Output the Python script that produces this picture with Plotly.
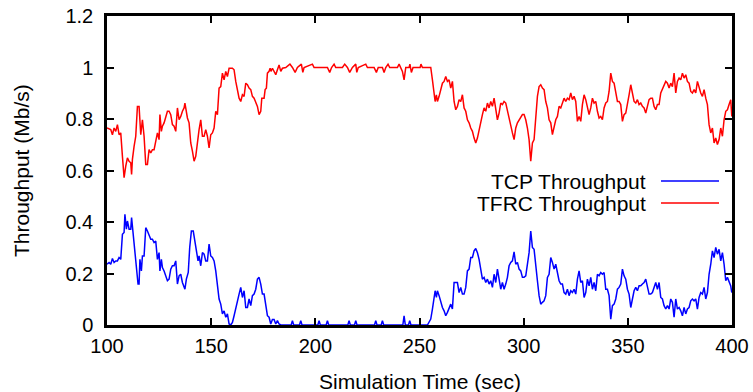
import plotly.graph_objects as go

# TFRC throughput (red)
tfrc_t = [100.0, 101.8, 102.6, 103.4, 104.2, 105.0, 105.8, 106.6, 107.4, 108.2, 109.0, 109.8, 110.6, 111.4, 111.8,
          112.2, 113.0, 113.8, 114.6, 115.4, 116.2, 117.0, 117.8, 118.6, 119.4, 120.2, 121.0, 121.8, 122.6, 123.4,
          124.2, 125.0, 125.4, 126.1, 126.6, 127.4, 128.2, 129.0, 129.8, 130.6, 131.4, 132.2, 133.0, 133.8, 134.6,
          135.4, 136.2, 137.0, 137.4, 137.8, 138.6, 139.4, 140.2, 141.0, 141.8, 142.6, 143.4, 144.2, 145.0, 145.8,
          146.6, 147.4, 148.2, 149.0, 149.8, 150.6, 151.4, 152.2, 153.0, 153.8, 154.6, 155.4, 156.2, 157.0, 157.8,
          158.6, 160.2, 161.0, 161.8, 162.6, 163.4, 164.2, 165.0, 165.8, 166.6, 167.4, 168.2, 169.0, 169.8, 170.6,
          171.4, 172.2, 173.0, 173.8, 174.3, 175.4, 175.9, 176.5, 177.0, 177.8, 178.3, 178.7, 179.4, 180.2, 181.0,
          181.8, 182.6, 183.4, 184.2, 185.8, 187.8, 189.0, 190.3, 191.4, 193.3, 194.0, 194.6, 198.6, 199.4, 205.8,
          206.9, 207.8, 209.0, 209.8, 213.0, 214.1, 215.4, 216.5, 217.8, 219.4, 219.9, 220.6, 224.2, 225.0, 228.2,
          229.3, 230.2, 232.2, 233.0, 233.8, 234.9, 235.7, 239.4, 240.2, 241.0, 241.8, 242.6, 243.4, 245.0, 245.4,
          246.1, 246.9, 250.3, 250.7, 251.4, 255.4, 256.2, 257.0, 257.5, 258.1, 258.6, 259.4, 260.2, 261.0, 261.8,
          262.6, 263.4, 264.2, 265.0, 265.8, 266.6, 267.4, 268.2, 269.0, 269.8, 270.6, 271.4, 272.2, 273.0, 273.8,
          274.6, 275.4, 276.2, 277.0, 277.8, 278.6, 279.4, 280.2, 281.0, 281.8, 282.6, 283.4, 284.2, 285.0, 285.8,
          286.6, 287.4, 288.2, 289.0, 289.8, 290.6, 291.4, 292.2, 293.0, 293.8, 294.6, 295.4, 296.2, 297.0, 297.8,
          298.6, 299.4, 300.2, 301.0, 301.8, 302.6, 303.4, 304.2, 305.0, 305.8, 306.6, 307.4, 308.2, 309.0, 309.8,
          310.6, 311.4, 312.2, 313.0, 313.8, 314.6, 315.4, 316.2, 317.0, 317.8, 318.6, 319.4, 320.2, 321.0, 321.8,
          322.6, 323.4, 324.2, 325.0, 325.8, 326.6, 327.4, 328.2, 329.0, 329.8, 330.6, 331.4, 332.2, 333.0, 333.8,
          334.6, 335.4, 336.2, 337.0, 337.8, 338.6, 339.4, 340.2, 341.0, 341.8, 342.6, 343.4, 344.2, 345.0, 345.8,
          346.6, 347.4, 348.2, 349.0, 349.8, 350.6, 351.4, 352.2, 353.0, 353.8, 354.6, 355.4, 356.2, 357.0, 357.8,
          358.6, 359.4, 360.2, 361.0, 361.8, 362.6, 363.4, 364.2, 365.0, 365.8, 366.6, 367.4, 368.2, 369.0, 369.8,
          370.6, 371.4, 372.2, 373.0, 373.8, 374.6, 375.4, 376.2, 377.0, 377.8, 378.6, 379.4, 380.2, 381.0, 381.8,
          382.6, 383.4, 384.2, 385.0, 385.8, 386.6, 387.4, 388.2, 389.0, 389.8, 390.6, 391.4, 392.2, 393.0, 393.8,
          394.6, 395.4, 396.2, 397.0, 397.8, 398.6, 399.4, 399.9]
tfrc_v = [0.765, 0.759, 0.739, 0.765, 0.752, 0.778, 0.739, 0.746, 0.655, 0.572, 0.617, 0.649, 0.636, 0.630, 0.585,
          0.643, 0.694, 0.733, 0.849, 0.849, 0.739, 0.797, 0.733, 0.623, 0.623, 0.681, 0.668, 0.681, 0.681, 0.720,
          0.746, 0.720, 0.817, 0.752, 0.772, 0.785, 0.804, 0.830, 0.830, 0.817, 0.778, 0.772, 0.752, 0.843, 0.797,
          0.810, 0.830, 0.843, 0.862, 0.836, 0.804, 0.785, 0.707, 0.675, 0.636, 0.655, 0.720, 0.759, 0.797, 0.733,
          0.733, 0.759, 0.733, 0.688, 0.739, 0.746, 0.765, 0.830, 0.817, 0.920, 0.926, 0.978, 0.952, 0.985, 0.965,
          0.997, 0.997, 0.991, 0.946, 0.914, 0.881, 0.868, 0.894, 0.888, 0.939, 0.933, 0.920, 0.914, 0.888, 0.881,
          0.868, 0.849, 0.817, 0.830, 0.881, 0.881, 0.914, 0.920, 0.978, 0.985, 0.997, 0.985, 0.997, 0.985, 0.972,
          0.991, 1.010, 0.985, 0.997, 1.000, 1.013, 1.000, 0.981, 1.000, 1.013, 0.981, 1.000, 1.013, 1.000, 1.000,
          0.981, 1.000, 1.013, 1.000, 1.000, 1.013, 1.000, 0.981, 1.000, 1.013, 0.981, 1.000, 1.013, 1.000, 1.000,
          0.981, 1.000, 1.000, 0.981, 1.000, 1.013, 1.000, 1.000, 1.013, 1.000, 0.985, 0.952, 1.000, 1.000, 1.013,
          0.981, 1.000, 1.000, 1.013, 1.000, 1.000, 0.952, 0.901, 0.868, 0.894, 0.868, 0.888, 0.920, 0.939, 0.946,
          0.965, 0.946, 0.952, 0.920, 0.946, 0.868, 0.836, 0.849, 0.875, 0.868, 0.894, 0.843, 0.830, 0.797, 0.785,
          0.765, 0.752, 0.726, 0.707, 0.726, 0.759, 0.797, 0.817, 0.843, 0.830, 0.862, 0.843, 0.868, 0.849, 0.881,
          0.836, 0.797, 0.823, 0.862, 0.856, 0.868, 0.862, 0.830, 0.797, 0.765, 0.746, 0.720, 0.765, 0.785, 0.797,
          0.810, 0.817, 0.817, 0.797, 0.765, 0.720, 0.636, 0.707, 0.720, 0.791, 0.888, 0.926, 0.933, 0.920, 0.914,
          0.868, 0.843, 0.797, 0.785, 0.739, 0.772, 0.797, 0.810, 0.849, 0.843, 0.862, 0.881, 0.868, 0.881, 0.875,
          0.901, 0.875, 0.888, 0.868, 0.791, 0.810, 0.791, 0.856, 0.894, 0.875, 0.849, 0.817, 0.843, 0.881, 0.862,
          0.868, 0.830, 0.804, 0.810, 0.797, 0.843, 0.862, 0.868, 0.907, 0.978, 0.946, 0.939, 0.894, 0.868, 0.868,
          0.856, 0.791, 0.817, 0.823, 0.868, 0.894, 0.933, 0.901, 0.868, 0.862, 0.875, 0.856, 0.862, 0.849, 0.843,
          0.823, 0.856, 0.875, 0.881, 0.881, 0.849, 0.836, 0.856, 0.856, 0.901, 0.914, 0.933, 0.946, 0.939, 0.920,
          0.939, 0.926, 0.978, 0.901, 0.946, 0.959, 0.952, 0.978, 0.959, 0.972, 0.946, 0.939, 0.907, 0.901, 0.914,
          0.901, 0.946, 0.920, 0.901, 0.888, 0.914, 0.881, 0.856, 0.778, 0.746, 0.765, 0.707, 0.726, 0.701, 0.720,
          0.765, 0.733, 0.797, 0.830, 0.836, 0.856, 0.875, 0.810]

# TCP throughput (blue)
tcp_t = [100.0, 101.0, 101.8, 102.6, 103.4, 104.2, 105.0, 105.8, 106.6, 107.4, 108.2, 108.6, 109.3, 109.8, 110.6,
         111.4, 111.8, 112.6, 113.4, 114.2, 114.9, 115.4, 115.8, 116.5, 117.0, 117.8, 118.6, 119.4, 120.2, 121.0,
         121.8, 122.6, 123.4, 124.2, 125.0, 125.4, 126.1, 126.6, 127.4, 128.2, 129.0, 129.8, 130.6, 131.4, 132.2,
         133.0, 133.8, 134.6, 135.4, 136.2, 137.0, 137.4, 138.1, 139.0, 139.7, 140.5, 141.4, 142.2, 142.9, 143.7,
         144.2, 145.0, 145.8, 146.6, 147.4, 148.2, 149.0, 149.8, 150.6, 151.4, 152.2, 153.0, 153.8, 154.6, 155.4,
         156.2, 157.0, 157.8, 158.6, 159.4, 160.2, 161.0, 161.8, 162.6, 163.4, 164.2, 165.0, 165.8, 166.6, 167.4,
         168.2, 169.0, 169.8, 170.6, 171.4, 172.2, 173.0, 173.8, 174.6, 175.4, 176.2, 177.0, 177.8, 178.6, 179.4,
         180.2, 181.0, 181.8, 182.6, 183.4, 188.4, 189.0, 189.6, 192.4, 193.0, 193.6, 201.2, 201.8, 202.4, 205.2,
         205.8, 206.4, 215.6, 216.2, 216.8, 218.8, 219.4, 220.0, 228.4, 229.0, 229.6, 231.6, 232.2, 232.8, 242.0,
         242.6, 243.2, 244.7, 245.3, 245.9, 253.8, 254.6, 255.4, 256.2, 257.0, 257.5, 258.1, 258.6, 259.4, 260.2,
         261.0, 261.8, 262.6, 263.4, 264.2, 265.0, 265.8, 266.6, 267.4, 268.2, 269.0, 269.8, 270.6, 271.4, 272.2,
         273.0, 273.8, 274.6, 275.4, 276.2, 277.0, 277.8, 278.6, 279.4, 280.2, 281.0, 281.8, 282.6, 283.4, 284.2,
         285.0, 285.8, 286.6, 287.4, 288.2, 289.0, 289.8, 290.6, 291.4, 292.2, 293.0, 293.8, 294.6, 295.4, 296.2,
         297.0, 297.8, 298.6, 299.4, 300.2, 301.0, 301.8, 302.6, 303.4, 304.2, 305.0, 305.8, 306.6, 307.4, 308.2,
         309.0, 309.8, 310.6, 311.4, 312.2, 313.0, 313.8, 314.6, 315.4, 316.2, 317.0, 317.8, 318.6, 319.4, 320.2,
         321.0, 321.8, 322.6, 323.4, 324.2, 325.0, 325.8, 326.6, 327.4, 328.2, 329.0, 329.8, 330.6, 331.4, 332.2,
         333.0, 333.8, 334.6, 335.4, 336.2, 337.0, 337.8, 338.6, 339.4, 340.2, 341.0, 341.8, 342.6, 343.4, 344.2,
         345.0, 345.8, 346.6, 347.4, 348.2, 349.0, 349.8, 350.6, 351.4, 352.2, 353.0, 353.8, 354.6, 355.4, 356.2,
         357.0, 357.8, 358.6, 359.4, 360.2, 361.0, 361.8, 362.6, 363.4, 364.2, 365.0, 365.8, 366.6, 367.4, 368.2,
         369.0, 369.8, 370.6, 371.4, 372.2, 373.0, 373.8, 374.6, 375.4, 376.2, 377.0, 377.8, 378.6, 379.4, 380.2,
         381.0, 381.8, 382.6, 383.4, 384.2, 385.0, 385.8, 386.6, 387.4, 388.2, 389.0, 389.8, 390.6, 391.4, 392.2,
         393.0, 393.8, 394.6, 395.4, 396.2, 397.0, 397.8, 398.6, 399.4, 399.9]
tcp_v = [0.236, 0.243, 0.236, 0.258, 0.243, 0.249, 0.249, 0.262, 0.255, 0.352, 0.359, 0.430, 0.372, 0.404, 0.372,
         0.372, 0.417, 0.352, 0.281, 0.223, 0.159, 0.159, 0.255, 0.210, 0.268, 0.268, 0.378, 0.365, 0.352, 0.333,
         0.333, 0.320, 0.326, 0.255, 0.281, 0.210, 0.255, 0.223, 0.210, 0.191, 0.172, 0.178, 0.217, 0.230, 0.230,
         0.249, 0.159, 0.191, 0.197, 0.165, 0.146, 0.139, 0.178, 0.204, 0.301, 0.365, 0.365, 0.320, 0.294, 0.249,
         0.268, 0.230, 0.281, 0.275, 0.249, 0.249, 0.314, 0.268, 0.262, 0.249, 0.210, 0.165, 0.101, 0.081, 0.043,
         0.055, 0.030, 0.043, 0.004, 0.000, 0.010, 0.036, 0.068, 0.094, 0.120, 0.146, 0.107, 0.133, 0.068, 0.068,
         0.101, 0.075, 0.114, 0.120, 0.139, 0.178, 0.185, 0.159, 0.120, 0.120, 0.081, 0.036, 0.030, 0.004, 0.021,
         0.021, 0.004, 0.017, 0.004, 0.000, 0.000, 0.017, 0.000, 0.000, 0.017, 0.000, 0.000, 0.017, 0.000, 0.000,
         0.017, 0.000, 0.000, 0.017, 0.000, 0.000, 0.017, 0.000, 0.000, 0.017, 0.000, 0.000, 0.017, 0.000, 0.000,
         0.036, 0.000, 0.000, 0.017, 0.000, 0.000, 0.010, 0.023, 0.062, 0.107, 0.133, 0.107, 0.133, 0.114, 0.088,
         0.068, 0.055, 0.036, 0.049, 0.062, 0.081, 0.062, 0.165, 0.165, 0.165, 0.126, 0.146, 0.120, 0.120, 0.146,
         0.210, 0.217, 0.262, 0.262, 0.288, 0.297, 0.281, 0.255, 0.210, 0.178, 0.185, 0.165, 0.178, 0.159, 0.172,
         0.146, 0.197, 0.165, 0.217, 0.172, 0.139, 0.165, 0.139, 0.159, 0.185, 0.230, 0.243, 0.249, 0.284, 0.236,
         0.243, 0.217, 0.210, 0.185, 0.185, 0.191, 0.236, 0.281, 0.365, 0.301, 0.294, 0.243, 0.172, 0.114, 0.081,
         0.088, 0.094, 0.114, 0.185, 0.197, 0.262, 0.243, 0.217, 0.236, 0.197, 0.172, 0.159, 0.159, 0.126, 0.120,
         0.139, 0.114, 0.133, 0.126, 0.139, 0.120, 0.178, 0.210, 0.165, 0.172, 0.107, 0.126, 0.178, 0.152, 0.185,
         0.139, 0.165, 0.133, 0.197, 0.191, 0.204, 0.197, 0.204, 0.139, 0.139, 0.114, 0.023, 0.075, 0.081, 0.101,
         0.139, 0.146, 0.159, 0.217, 0.191, 0.178, 0.139, 0.120, 0.068, 0.107, 0.133, 0.146, 0.133, 0.152, 0.152,
         0.159, 0.165, 0.178, 0.152, 0.120, 0.120, 0.126, 0.146, 0.165, 0.139, 0.165, 0.107, 0.101, 0.075, 0.062,
         0.075, 0.062, 0.101, 0.088, 0.030, 0.101, 0.062, 0.068, 0.055, 0.036, 0.068, 0.043, 0.062, 0.068, 0.094,
         0.101, 0.094, 0.101, 0.062, 0.107, 0.126, 0.120, 0.146, 0.101, 0.126, 0.197, 0.236, 0.288, 0.262, 0.301,
         0.275, 0.294, 0.249, 0.281, 0.236, 0.172, 0.185, 0.165, 0.152, 0.126]

x_ticks = [100, 150, 200, 250, 300, 350, 400]
y_ticks = [0, 0.2, 0.4, 0.6, 0.8, 1.0, 1.2]
y_tick_text = ["0", "0.2", "0.4", "0.6", "0.8", "1", "1.2"]
series_names = ["TCP Throughput", "TFRC Throughput"]
series_colors = ["#0000ff", "#ff0000"]

FONT = "Liberation Sans, Arial, sans-serif"
TICK_FS = 20
TEXT_FS = 21

# plot area in pixels: x 107..732, y 16..325
L, R, T, B = 107, 21, 16, 67
PW, PH = 753 - L - R, 392 - T - B


def px_x(p):
    return (p - L) / PW


def px_y(p):
    return (392 - B - p) / PH


fig = go.Figure()
fig.add_trace(go.Scatter(x=tcp_t, y=tcp_v, mode="lines", name=series_names[0],
                         line=dict(color=series_colors[0], width=1.5), showlegend=False))
fig.add_trace(go.Scatter(x=tfrc_t, y=tfrc_v, mode="lines", name=series_names[1],
                         line=dict(color=series_colors[1], width=1.5), showlegend=False))

# gnuplot-style key: right-aligned text followed by line sample
key_rows = [181, 203]
for name, color, yk in zip(series_names, series_colors, key_rows):
    fig.add_annotation(xref="paper", yref="paper", x=px_x(648), y=px_y(yk), text=name, showarrow=False,
                       xanchor="right", yanchor="middle",
                       font=dict(family=FONT, size=TEXT_FS, color="black"))
    fig.add_shape(type="line", xref="paper", yref="paper", x0=px_x(661), x1=px_x(719),
                  y0=px_y(yk), y1=px_y(yk), line=dict(color=color, width=1.5))

# axis titles
fig.add_annotation(xref="paper", yref="paper", x=px_x(420), y=px_y(381), text="Simulation Time (sec)",
                   showarrow=False, xanchor="center", yanchor="middle",
                   font=dict(family=FONT, size=TEXT_FS, color="black"))
fig.add_annotation(xref="paper", yref="paper", x=px_x(22), y=px_y(171), text="Throughput (Mb/s)",
                   showarrow=False, xanchor="center", yanchor="middle", textangle=-90,
                   font=dict(family=FONT, size=TEXT_FS, color="black"))

axis_common = dict(showline=True, linecolor="black", linewidth=2.5, mirror="ticks", ticks="inside",
                   ticklen=7, tickwidth=1.5, tickcolor="black", showgrid=False, zeroline=False,
                   automargin=False, tickfont=dict(family=FONT, size=TICK_FS, color="black"))

fig.update_layout(
    width=753, height=392,
    margin=dict(l=L, r=R, t=T, b=B),
    paper_bgcolor="white", plot_bgcolor="white",
    font=dict(family=FONT, size=TICK_FS, color="black"),
    xaxis=dict(range=[100, 400], tickvals=x_ticks, ticktext=[str(v) for v in x_ticks],
               ticklabelstandoff=1, **axis_common),
    yaxis=dict(range=[0, 1.2], tickvals=y_ticks, ticktext=y_tick_text,
               ticklabelstandoff=7, **axis_common),
)

fig.write_html("out.html")
